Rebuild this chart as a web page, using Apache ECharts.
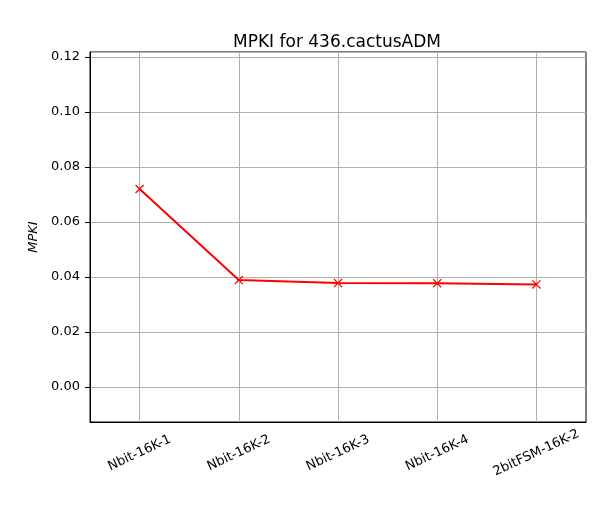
<!doctype html>
<html>
<head>
<meta charset="utf-8">
<title>MPKI for 436.cactusADM</title>
<script src="https://cdn.jsdelivr.net/npm/echarts@6/dist/echarts.min.js"></script>
<style>
    html,body{
        margin: 0;
        padding: 0;
        background: #fff;
    }
    #chart{
        width: 616px;
        height: 516px;
    }
</style>
</head>
<body>
    <div id="chart"></div>
<script>
    // data
    var categories = ['Nbit-16K-1', 'Nbit-16K-2', 'Nbit-16K-3', 'Nbit-16K-4', '2bitFSM-16K-2'];
    var mpki = [0.0720, 0.0389, 0.0378, 0.0377, 0.0373];
    var yMin = -0.0127, yMax = 0.1218;

    var font = 'DejaVu Sans';
    // x marker, matplotlib style
    var xMark = 'path://M0,1L1,0L5,4L9,0L10,1L6,5L10,9L9,10L5,6L1,10L0,9L4,5Z';

    var chart = echarts.init(document.getElementById('chart'));
    var option = {
        animation: false,
        title: {
            text: 'MPKI for 436.cactusADM',
            left: 332,
            top: 29,
            textAlign: 'center',
            textStyle: {
                fontFamily: font,
                fontSize: 17,
                fontWeight: 'normal',
                color: '#000'
            }
        },
        grid: {
            left: 90,
            right: 30,
            top: 52,
            bottom: 94,
            show: true,
            borderColor: '#000',
            borderWidth: 1,
            containLabel: false
        },
        xAxis: {
            type: 'category',
            data: categories,
            boundaryGap: true,
            axisLine: { onZero: false, lineStyle: { color: '#000', width: 1 } },
            axisTick: { alignWithLabel: true, length: 5, lineStyle: { color: '#000' } },
            splitLine: { show: true, alignWithLabel: true, lineStyle: { color: '#b0b0b0', width: 1 } },
            axisLabel: {
                rotate: 25,
                align: 'center',
                verticalAlign: 'middle',
                margin: 31,
                interval: 0,
                fontFamily: font,
                fontSize: 13,
                color: '#000'
            }
        },
        yAxis: {
            type: 'value',
            min: yMin,
            max: yMax,
            splitNumber: 7,
            minInterval: 0.02,
            maxInterval: 0.02,
            name: 'MPKI',
            nameLocation: 'middle',
            nameGap: 45,
            nameTextStyle: {
                fontFamily: font,
                fontSize: 13,
                fontStyle: 'italic',
                color: '#000'
            },
            axisLine: { show: true, lineStyle: { color: '#000', width: 1 } },
            axisTick: { show: true, length: 5, lineStyle: { color: '#000' } },
            splitLine: { show: true, lineStyle: { color: '#b0b0b0', width: 1 } },
            axisLabel: {
                showMinLabel: false,
                showMaxLabel: false,
                margin: 10,
                fontFamily: font,
                fontSize: 13,
                color: '#000',
                formatter: function (v) { return v.toFixed(2); }
            }
        },
        series: [{
            type: 'line',
            data: mpki,
            symbol: xMark,
            symbolSize: 9,
            showAllSymbol: true,
            lineStyle: { color: '#ff0000', width: 2 },
            itemStyle: { color: '#ff0000' }
        }]
    };
    chart.setOption(option);
</script>
</body>
</html>
